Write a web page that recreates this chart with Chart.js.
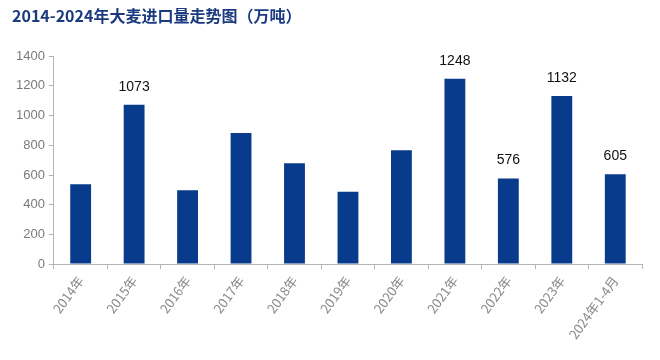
<!DOCTYPE html>
<html>
<head>
<meta charset="utf-8">
<script src="https://cdn.jsdelivr.net/npm/chart.js@4"></script>
<style>
  html, body { margin: 0; padding: 0; background: #fff; }
  #wrap { width: 660px; height: 360px; }
</style>
</head>
<body>
<div id="wrap"><canvas id="barleyChart" width="660" height="360"></canvas></div>
<script>
const years = ["2014年", "2015年", "2016年", "2017年", "2018年", "2019年", "2020年", "2021年", "2022年", "2023年", "2024年1-4月"];
const imports = [538, 1073, 497, 883, 680, 487, 767, 1248, 576, 1132, 605];
const labelled = [false, true, false, false, false, false, false, true, true, true, true];
const yTicks = [0, 200, 400, 600, 800, 1000, 1200, 1400];

// value labels above some bars
const valueLabels = {
    id: 'valueLabels',
    afterDatasetsDraw(chart) {
        const ctx = chart.ctx;
        const meta = chart.getDatasetMeta(0);
        ctx.save();
        ctx.font = '14px "Liberation Sans", Arial, sans-serif';
        ctx.fillStyle = '#111';
        ctx.textAlign = 'center';
        ctx.textBaseline = 'bottom';
        meta.data.forEach((bar, i) => {
            if (!labelled[i]) return;
            ctx.fillText(String(imports[i]), bar.x, bar.y - 11);
        });
        ctx.restore();
    }
};

const ctxBarley = document.getElementById('barleyChart').getContext('2d');
const barleyChart = new Chart(ctxBarley, {
    type: 'bar',
    data: {
        labels: years,
        datasets: [{
            data: imports,
            backgroundColor: '#083b8b',
            barPercentage: 0.39,
            categoryPercentage: 1,
        }]
    },
    options: {
        responsive: false,
        animation: false,
        layout: {
            padding: { left: 12, right: 18, top: 0, bottom: 14 }
        },
        scales: {
            x: {
                grid: {
                    offset: true,
                    drawOnChartArea: false,
                    tickLength: 5,
                    color: '#b5b5b5',
                },
                border: { color: '#b5b5b5' },
                ticks: {
                    color: '#8a8a8a',
                    font: { size: 13, family: '"Noto Sans CJK SC", sans-serif' },
                    minRotation: 54,
                    maxRotation: 54,
                    padding: 4,
                },
            },
            y: {
                min: 0,
                max: 1400,
                afterBuildTicks: (axis) => { axis.ticks = yTicks.map(v => ({ value: v })); },
                grid: {
                    drawOnChartArea: false,
                    tickLength: 5,
                    color: '#b5b5b5',
                },
                border: { color: '#b5b5b5' },
                ticks: {
                    color: '#7a7a7a',
                    font: { size: 13, family: '"Liberation Sans", Arial, sans-serif' },
                    padding: 4,
                    callback: (v) => String(v),
                },
            }
        },
        plugins: {
            legend: { display: false },
            tooltip: { enabled: false },
            title: {
                display: true,
                text: '2014-2024年大麦进口量走势图（万吨）',
                align: 'start',
                color: '#1b3a80',
                font: { size: 16, weight: 'bold', family: '"Noto Sans CJK SC", sans-serif' },
                padding: { top: 6, bottom: 31 },
            },
        }
    },
    plugins: [valueLabels],
});
</script>
</body>
</html>
